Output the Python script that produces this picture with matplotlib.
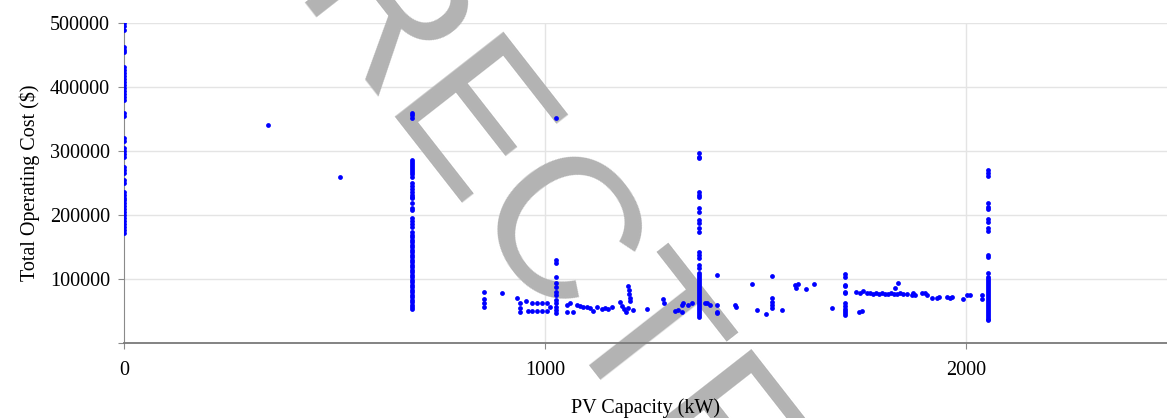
"""Scatter of total operating cost against installed PV capacity."""

import matplotlib.pyplot as plt
import numpy as np

plt.rcParams["font.family"] = ["Liberation Serif", "DejaVu Serif"]

# Design runs stacked at a single PV size: (capacity in kW, list of costs in $)
COLUMNS = [
    (0, [500000, 495300, 489000, 462500, 457800, 454700, 431250, 426600,
         421900, 417200, 412500, 407800, 403100, 398400, 393750, 389000,
         384400, 379700, 359400, 354700, 320300, 315600, 304700, 300000,
         295300, 290600, 275000, 270300, 265600, 254700, 250000, 235900,
         231250, 226600, 223400, 218750, 214000, 209400, 204700, 200000,
         195300, 190600, 185900, 181250, 176600, 171900]),
    (684, [359400, 356250, 351600, 286000, 282800, 279700, 276600, 273400,
           270300, 267200, 264000, 259400, 250000, 245300, 240600, 235900,
           231250, 228100, 226600, 218750, 210900, 207800, 195300, 190600,
           185900, 181250, 173400, 168750, 165600, 160900, 157800, 153100,
           150000, 145300, 142200, 137500, 134400, 129700, 126600, 121900,
           118750, 114000, 110900, 106250, 103100, 98400, 95300, 90600,
           87500, 82800, 79700, 75000, 71900, 67200, 64000, 59400, 56250,
           53100]),
    (1026, [351600, 129700, 125000, 103100, 93750, 87500, 79700, 75000,
            67200, 62500, 56250, 51600, 46900]),
    (1366, [297000, 291000, 289000, 236000, 231000, 228000, 211000, 205000,
            192000, 187000, 180000, 173000, 142000, 137500, 133000, 122000,
            117000, 109400, 106250, 103100, 100000, 96900, 93750, 90600,
            87500, 84400, 81250, 78100, 75000, 71900, 68750, 65600, 62500,
            59400, 56250, 53100, 50000, 46900, 43750, 40600]),
    (1712, [107800, 103100, 90600, 89100, 79700, 78100, 62500, 57800,
            53100, 50000, 46900, 43750]),
    (2052, [270300, 265600, 260900, 218750, 212500, 209400, 193750, 189000,
            179700, 175000, 137500, 134400, 109400, 103100, 100000, 96900,
            93750, 90600, 87500, 84400, 81250, 78100, 75000, 71900, 68750,
            65600, 62500, 59400, 56250, 53100, 50000, 46900, 43750, 40600,
            37500, 35900]),
]

# Remaining single design points
pv_kw = [342, 513, 855, 855, 855, 855, 898, 933, 941, 941, 941, 955, 960,
         969, 969, 981, 981, 993, 993, 1005, 1005, 1012, 1052, 1052, 1059,
         1067, 1076, 1083, 1090, 1100, 1107, 1114, 1124, 1135, 1143, 1150,
         1159, 1178, 1183, 1188, 1192, 1197, 1197, 1199, 1200, 1202, 1202,
         1209, 1242, 1280, 1283, 1309, 1316, 1325, 1328, 1325, 1340, 1349,
         1380, 1385, 1392, 1409, 1409, 1409, 1409, 1451, 1454, 1492, 1504,
         1525, 1539, 1539, 1539, 1539, 1539, 1563, 1594, 1596, 1601, 1620,
         1639, 1682, 1739, 1748, 1755, 1765, 1746, 1753, 1772, 1779, 1786,
         1793, 1800, 1807, 1815, 1822, 1829, 1836, 1843, 1850, 1860, 1831,
         1838, 1872, 1879, 1874, 1895, 1903, 1907, 1919, 1931, 1936, 1955,
         1962, 1967, 1993, 2002, 2010, 2038, 2038]
cost_usd = [340600, 259000, 79700, 68750, 62500, 56250, 78100, 70300, 62500,
            54700, 48400, 65600, 50000, 62500, 50000, 62500, 50000, 62500,
            50000, 62500, 50000, 56250, 59400, 48400, 62500, 48400, 59400,
            57800, 56250, 56250, 54700, 50000, 56250, 53100, 54700, 53100,
            56250, 64000, 57800, 53100, 48400, 54700, 89100, 82800, 76600,
            70300, 65600, 51600, 53100, 68750, 62500, 50000, 51600, 59400,
            62500, 48400, 59400, 62500, 62500, 62500, 59400, 106250, 59400,
            48400, 46900, 59400, 56250, 92200, 51600, 45300, 104700, 70300,
            64000, 59400, 54700, 51600, 90600, 85900, 92200, 84400, 92200,
            54700, 79700, 78100, 81250, 78100, 48400, 50000, 78100, 77300,
            78100, 77300, 78100, 77300, 77300, 78100, 76600, 77300, 78100,
            76600, 77300, 85900, 93750, 75000, 75000, 78100, 78100, 78100,
            75000, 70300, 70300, 71900, 71900, 70300, 71900, 68750, 75000,
            75000, 75000, 68750]

x_ticks = [0, 1000, 2000]
y_ticks = [0, 100000, 200000, 300000, 400000, 500000]

fig = plt.figure(figsize=(11.67, 4.18), dpi=100)
ax = fig.add_axes([124 / 1167, 75 / 418, 1 - 124 / 1167, 320 / 418])

xs = np.concatenate([np.full(len(c), pv) for pv, c in COLUMNS] + [pv_kw])
ys = np.concatenate([c for _, c in COLUMNS] + [cost_usd])
ax.scatter(xs, ys, s=12, color="#0000ff", linewidths=0, zorder=3)

ax.set_xlim(0, 2477)
ax.set_ylim(0, 500000)
ax.set_xticks(x_ticks)
ax.set_xticklabels([str(t) for t in x_ticks])
ax.set_yticks(y_ticks)
ax.set_yticklabels([""] + [str(t) for t in y_ticks[1:]])

# grid drawn by hand so it can sit under the stamp while tick labels stay on top
for t in y_ticks[1:]:
    ax.axhline(t, color="#e4e4e4", linewidth=1.0, zorder=0.8)
for t in x_ticks[1:]:
    ax.axvline(t, color="#e4e4e4", linewidth=1.0, zorder=0.8)

for side in ("top", "right"):
    ax.spines[side].set_visible(False)
ax.spines["left"].set_color("#8a8a8a")
ax.spines["bottom"].set_color("#7a7a7a")
ax.spines["bottom"].set_linewidth(1.3)
ax.tick_params(axis="both", colors="#8a8a8a", labelcolor="black",
               labelsize=14.5, length=4)
ax.tick_params(axis="x", pad=9)
ax.tick_params(axis="y", pad=6)

ax.set_xlabel("PV Capacity (kW)", fontsize=14.5, labelpad=13)
ax.set_ylabel("Total Operating Cost ($)", fontsize=14.5, labelpad=7)

# diagonal stamp across the plot, under the markers
ax.text(448 / 1167, 1 - 116 / 418, "CORRECTED", transform=fig.transFigure,
        family="Liberation Sans", fontsize=145, color="#b3b3b3",
        rotation=-52, rotation_mode="anchor", ha="center", va="center",
        clip_on=False, zorder=1)

fig.savefig("out.png", dpi=100)
